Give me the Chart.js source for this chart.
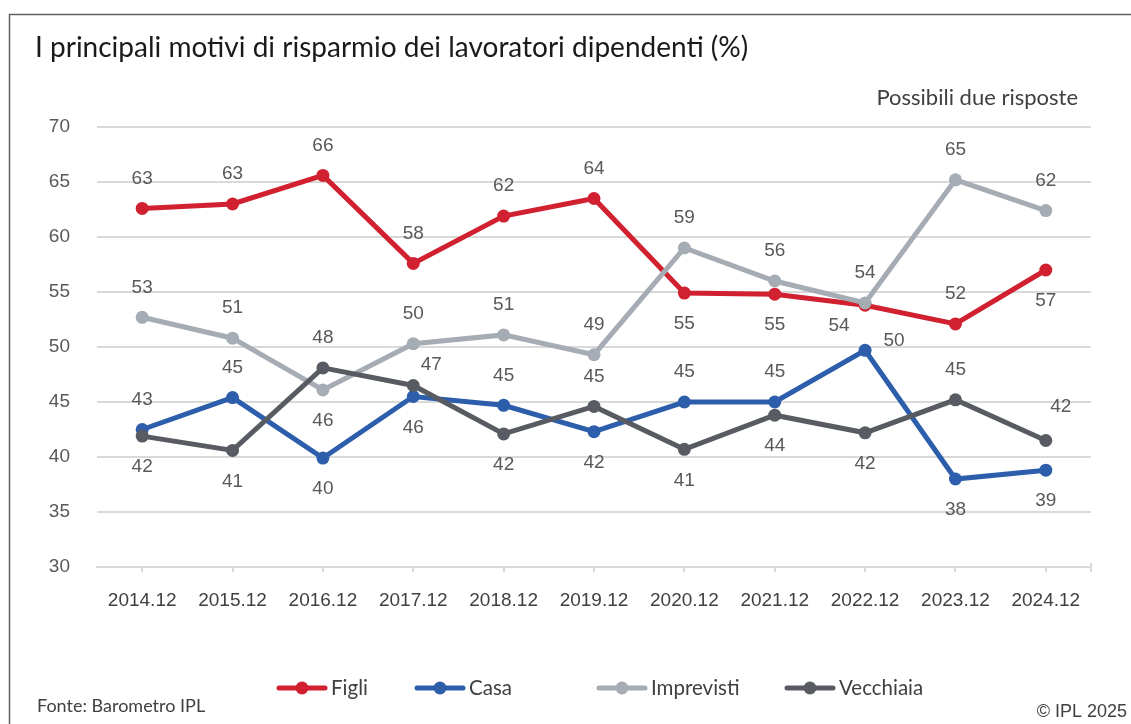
<!DOCTYPE html>
<html>
<head>
<meta charset="utf-8">
<script src="https://cdn.jsdelivr.net/npm/chart.js@4.4.0/dist/chart.umd.min.js"></script>
<style>
  html, body { margin: 0; padding: 0; background: #fff; }
  #wrap { width: 1131px; height: 724px; position: relative; }
</style>
</head>
<body>
<div id="wrap"><canvas id="chart"></canvas></div>
<script>
// data
const categories = ['2014.12', '2015.12', '2016.12', '2017.12', '2018.12', '2019.12', '2020.12', '2021.12', '2022.12', '2023.12', '2024.12'];
const figli      = [62.6, 63.0, 65.6, 57.6, 61.9, 63.5, 54.9, 54.8, 53.8, 52.1, 57.0];
const casa       = [42.5, 45.4, 39.9, 45.5, 44.7, 42.3, 45.0, 45.0, 49.7, 38.0, 38.8];
const imprevisti = [52.7, 50.8, 46.1, 50.3, 51.1, 49.3, 59.0, 56.0, 54.0, 65.2, 62.4];
const vecchiaia  = [41.9, 40.6, 48.1, 46.5, 42.1, 44.6, 40.7, 43.8, 42.2, 45.2, 41.5];
const seriesNames = ['Figli', 'Casa', 'Imprevisti', 'Vecchiaia'];
const yMin = 30, yMax = 70, yStep = 5;

// style
const seriesColors = ['#d1202f', '#2c5eab', '#a5acb4', '#585c62'];
const drawOrder = [4, 3, 2, 1];   // lower = drawn on top
// where each value label sits relative to its point
const figliPos      = ['a','a','a','a','a','a','b','b','lb','a','b'];
const casaPos       = ['a','a','b','b','a','b','a','a','r','b','b'];
const imprevistiPos = ['a','a','b','a','a','a','a','a','a','a','a'];
const vecchiaiaPos  = ['b','b','a','ar','b','a','b','b','b','a','ar2'];
const labelOffsets = { a: [0, -30], b: [0, 31], r: [29, -10], lb: [-26, 21], ar: [18, -21], ar2: [15, -34] };
const legendStarts = [277, 415, 597, 785];

const seriesData = [figli, casa, imprevisti, vecchiaia];
const seriesPos = [figliPos, casaPos, imprevistiPos, vecchiaiaPos];

const numFont = 'Liberation Sans';
const textFont = 'Lato';

const decor = {
    id: 'decor',
    afterDatasetsDraw(chart) {
        const ctx = chart.ctx;
        ctx.save();
        ctx.font = '19px "' + numFont + '"';
        ctx.fillStyle = '#595959';
        ctx.textAlign = 'center';
        ctx.textBaseline = 'middle';
        chart.data.datasets.forEach((ds, i) => {
            const meta = chart.getDatasetMeta(i);
            meta.data.forEach((pt, j) => {
                const off = labelOffsets[seriesPos[i][j]];
                ctx.fillText(String(Math.round(ds.data[j])), pt.x + off[0], pt.y + off[1]);
            });
        });
        ctx.restore();
    },
    afterDraw(chart) {
        const ctx = chart.ctx;
        const area = chart.chartArea;
        ctx.save();

        // frame
        ctx.strokeStyle = '#5f5f5f';
        ctx.lineWidth = 1.5;
        ctx.beginPath();
        ctx.moveTo(9.5, 724);
        ctx.lineTo(9.5, 14.5);
        ctx.lineTo(1131, 14.5);
        ctx.stroke();

        // end tick on x axis
        ctx.strokeStyle = '#d9d9d9';
        ctx.lineWidth = 2;
        ctx.beginPath();
        ctx.moveTo(area.right, area.bottom - 4);
        ctx.lineTo(area.right, area.bottom + 5);
        ctx.stroke();

        // title
        ctx.fillStyle = '#1a1a1a';
        ctx.textBaseline = 'middle';
        ctx.textAlign = 'left';
        ctx.font = '28px "' + textFont + '"';
        ctx.fillText('I principali motivi di risparmio dei lavoratori dipendenti (%)', 35, 48);

        ctx.fillStyle = '#404040';
        ctx.font = '22px "' + textFont + '"';
        ctx.textAlign = 'right';
        ctx.fillText('Possibili due risposte', 1078, 98);

        ctx.textAlign = 'left';
        ctx.font = '18px "' + textFont + '"';
        ctx.fillText('Fonte: Barometro IPL', 37, 706);

        ctx.textAlign = 'right';
        ctx.font = '18px "' + numFont + '"';
        ctx.fillText('\u00A9 IPL 2025', 1127, 712);

        // legend
        ctx.font = '20.5px "' + textFont + '"';
        const symW = 50, gapT = 4, ly = 688;
        ctx.textAlign = 'left';
        seriesNames.forEach((name, i) => {
            const x = legendStarts[i];
            ctx.strokeStyle = seriesColors[i];
            ctx.fillStyle = seriesColors[i];
            ctx.lineWidth = 5;
            ctx.lineCap = 'round';
            ctx.beginPath();
            ctx.moveTo(x + 2, ly);
            ctx.lineTo(x + symW - 2, ly);
            ctx.stroke();
            ctx.beginPath();
            ctx.arc(x + symW / 2, ly, 6.5, 0, Math.PI * 2);
            ctx.fill();
            ctx.fillStyle = '#404040';
            ctx.fillText(name, x + symW + gapT, ly);
        });

        ctx.restore();
    }
};

const ctx = document.getElementById('chart').getContext('2d');
const chart = new Chart(ctx, {
    type: 'line',
    data: {
        labels: categories,
        datasets: seriesNames.map((name, i) => ({
            label: name,
            data: seriesData[i],
            borderColor: seriesColors[i],
            backgroundColor: seriesColors[i],
            pointBackgroundColor: seriesColors[i],
            pointBorderWidth: 0,
            pointRadius: 6.5,
            borderWidth: 5,
            tension: 0,
            fill: false,
            order: drawOrder[i]
        }))
    },
    options: {
        responsive: true,
        maintainAspectRatio: false,
        animation: false,
        layout: {
            padding: { left: 20, right: 40, top: 127, bottom: 117 }
        },
        plugins: {
            legend: { display: false },
            tooltip: { enabled: false }
        },
        scales: {
            x: {
                offset: true,
                grid: {
                    display: true,
                    drawOnChartArea: false,
                    offset: false,
                    tickLength: 5,
                    color: '#d9d9d9',
                    lineWidth: 2
                },
                border: { display: true, color: '#d9d9d9', width: 2 },
                ticks: {
                    color: '#404040',
                    font: { family: numFont, size: 19 },
                    padding: 17,
                    maxRotation: 0,
                    autoSkip: false
                },
                afterFit(scale) { scale.height = 40; }
            },
            y: {
                min: yMin,
                max: yMax,
                ticks: {
                    stepSize: yStep,
                    color: '#595959',
                    font: { family: numFont, size: 19 },
                    padding: 27
                },
                grid: { color: '#d9d9d9', lineWidth: 2, drawTicks: false },
                border: { display: false },
                afterFit(scale) { scale.width = 77; }
            }
        }
    },
    plugins: [decor]
});
</script>
</body>
</html>
